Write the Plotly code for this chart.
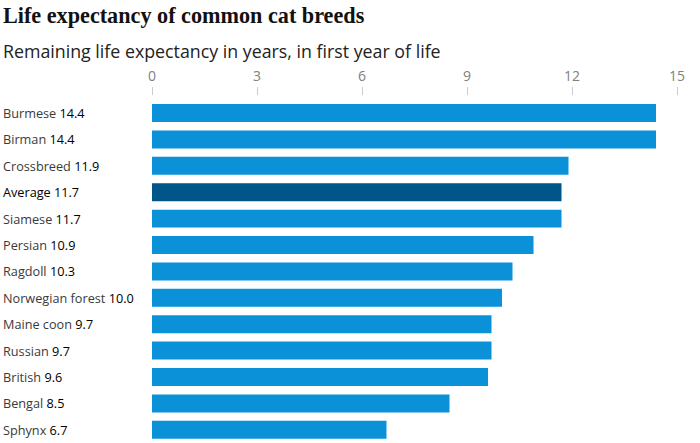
import plotly.graph_objects as go

breeds = ["Burmese", "Birman", "Crossbreed", "Average", "Siamese", "Persian", "Ragdoll",
          "Norwegian forest", "Maine coon", "Russian", "British", "Bengal", "Sphynx"]
years = [14.4, 14.4, 11.9, 11.7, 11.7, 10.9, 10.3, 10.0, 9.7, 9.7, 9.6, 8.5, 6.7]
tick_vals = [0, 3, 6, 9, 12, 15]
title = "Life expectancy of common cat breeds"
subtitle = "Remaining life expectancy in years, in first year of life"

SANS = "Open Sans, sans-serif"
colors = ["#005689" if b == "Average" else "#0a91d8" for b in breeds]

fig = go.Figure(go.Bar(x=years, y=breeds, orientation="h", marker=dict(color=colors, line_width=0),
                       width=0.68, hoverinfo="skip"))
notes = []
for b, v in zip(breeds, years):
    name_color = "#000000" if b == "Average" else "#3a3a3a"
    text = f"<span style='color:{name_color}'>{b}</span> <span style='color:#000000'>{v:.1f}</span>"
    notes.append(dict(x=0, xref="paper", y=b, yref="y", xshift=-151, text=text,
                      showarrow=False, xanchor="left",
                      font=dict(family=SANS, size=12.7)))
notes.append(dict(x=0, xref="paper", xanchor="left", xshift=-151, y=1, yref="paper", yshift=45,
                  yanchor="middle", text=subtitle, showarrow=False,
                  font=dict(family=SANS, size=17.8, color="#222222")))
notes.append(dict(x=0, xref="paper", xanchor="left", xshift=-151, y=1, yref="paper", yshift=81,
                  yanchor="middle", text=f"<b>{title}</b>", showarrow=False,
                  font=dict(family="Liberation Serif, serif", size=22.2, color="#111111")))
fig.update_layout(
    width=700, height=443, margin=dict(l=152, r=23, t=96, b=0),
    paper_bgcolor="white", plot_bgcolor="white", showlegend=False,
    annotations=notes,
    xaxis=dict(range=[0, 15], side="top", tickvals=tick_vals, showgrid=False, zeroline=False,
               ticks="outside", ticklen=8, tickwidth=1, tickcolor="#cccccc", showline=False,
               tickfont=dict(family=SANS, size=14, color="#808080")),
    yaxis=dict(categoryorder="array", categoryarray=breeds[::-1], showticklabels=False, ticks="",
               showgrid=False, zeroline=False, range=[-0.5, 12.644]),
)
fig.write_html("out.html", config={"displayModeBar": False},
               post_script="document.body.style.margin='0';")
